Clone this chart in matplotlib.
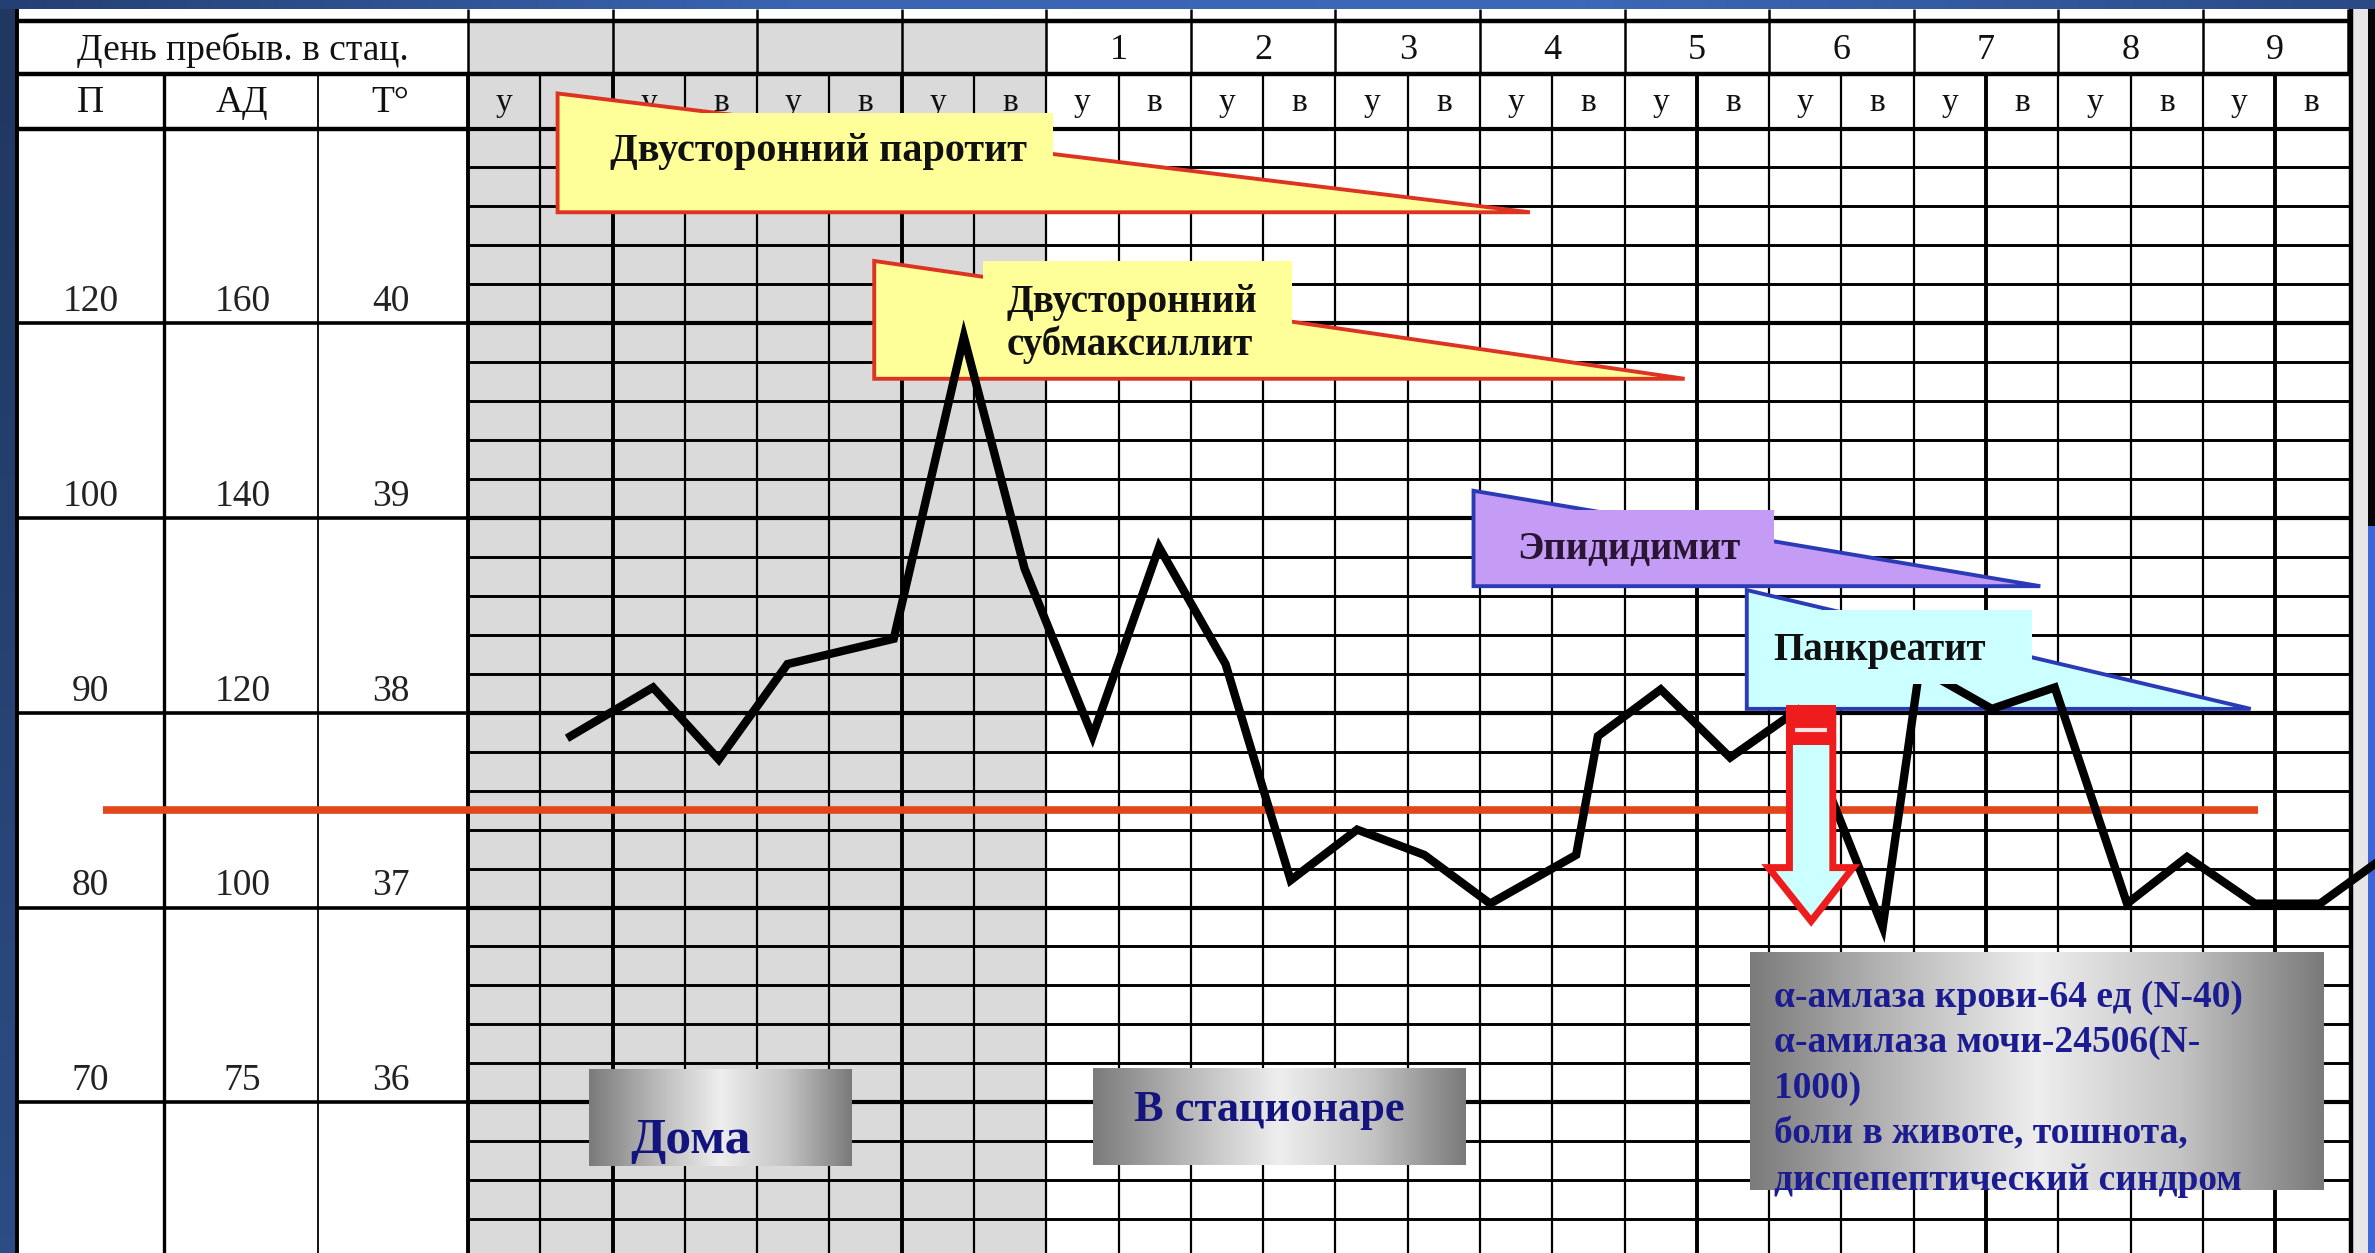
#%% Libraries
import matplotlib
matplotlib.use('Agg')
import matplotlib.pyplot as plt
import numpy as np
from matplotlib.patches import Polygon, Rectangle
from matplotlib.colors import LinearSegmentedColormap

plt.rcParams['font.family'] = ['Liberation Serif', 'DejaVu Serif']

#%% Data
half_day = ['у', 'в'] * 13                 # morning / evening columns
hosp_days = ['1', '2', '3', '4', '5', '6', '7', '8', '9']
pulse_lbl = ['120', '100', '90', '80', '70']
bp_lbl = ['160', '140', '120', '100', '75']
temp_lbl = [40, 39, 38, 37, 36]

# temperature curve: position in half-day columns, degrees C
temp_x = [1.42, 2.56, 3.47, 4.42, 5.89, 6.86, 7.70, 8.64, 9.56, 10.48,
          11.38, 12.30, 13.23, 14.14, 15.33, 15.63, 16.50, 17.46, 18.38, 19.57,
          20.08, 21.08, 21.95, 22.95, 23.78, 24.72, 25.62, 26.40]
temp_y = [37.88, 38.13, 37.76, 38.25, 38.38, 39.93, 38.74, 37.88, 38.85, 38.25,
          37.14, 37.40, 37.27, 37.02, 37.27, 37.88, 38.12, 37.77, 38.01, 36.90,
          38.23, 38.02, 38.13, 37.02, 37.26, 37.02, 37.02, 37.23]
norm_t = 37.5

info_lines = ['α-амлаза крови-64 ед (N-40)',
              'α-амилаза мочи-24506(N-',
              '1000)',
              'боли в животе, тошнота,',
              'диспепептический синдром']

#%% Figure set up (1 unit = one half-day column in x, 1 unit = 1 C in y)
X0, X1, Y0, Y1 = -6.473, 26.38, 35.226, 41.66
fig = plt.figure(figsize=(23.75, 12.53), dpi=100, facecolor='#243f6f')
ax = fig.add_axes([0, 0, 1, 1])
ax.set_axis_off()

# frame of the slide
blue_cm = LinearSegmentedColormap.from_list('b', ['#243f72', '#3a64b2', '#3d68b8', '#2a4a86'])
ax.imshow(np.linspace(0, 1, 256)[None, :], extent=(X0, X1, 41.615, Y1), cmap=blue_cm, aspect='auto', zorder=10)
side_cm = LinearSegmentedColormap.from_list('s', ['#20375f', '#2b4c85'])
ax.imshow(np.linspace(0, 1, 64)[:, None], extent=(X0, -6.24, Y0, 41.615), cmap=side_cm, aspect='auto', zorder=0)
ax.add_patch(Rectangle((-6.24, Y0), 26.07 + 6.24, 41.615 - Y0, fc='white', ec='none', zorder=0.2))
ax.add_patch(Rectangle((26.07, Y0), 0.21, 41.615 - Y0, fc='#e6e6e6', ec='none', zorder=0.2))
ax.add_patch(Rectangle((26.28, 38.96), 0.2, 41.615 - 38.96, fc='#050505', ec='none', zorder=0.2))
ax.add_patch(Rectangle((26.28, Y0), 0.2, 38.96 - Y0, fc='#3d66d9', ec='none', zorder=0.2))

# grey "home" days
ax.add_patch(Rectangle((0, Y0), 8, 41.55 - Y0, fc='#dadada', ec='none', zorder=0.5))

#%% Grid
R = 26.05
for k in range(30):
    y = 41 - 0.2 * k
    if y < Y0:
        continue
    ax.hlines(y, 0, R, color='black', lw=3.0 if k % 5 == 0 else 2.1, zorder=1)
for y in [41.28, 41.55]:
    ax.hlines(y, -6.24, R, color='black', lw=3.2, zorder=1)
ax.hlines(41.0, -6.24, 0, color='black', lw=3.2, zorder=1)
for t in temp_lbl:
    ax.hlines(t, -6.24, 0, color='black', lw=2.6, zorder=1)

thick = [0, 2, 6, 17, 21, 25]
for c in range(26):
    ax.vlines(c, Y0, 41.28, color='black', lw=2.8 if c in thick else 1.6, zorder=1)
for c in range(0, 27, 2):
    ax.vlines(c, 41.28, 41.615, color='black', lw=1.8, zorder=1)
ax.vlines(R, Y0, 41.615, color='black', lw=3.2, zorder=1)
ax.vlines(-6.24, Y0, 41.615, color='black', lw=2.8, zorder=1)
ax.vlines(-4.21, Y0, 41.28, color='black', lw=2.4, zorder=1)
ax.vlines(-2.08, Y0, 41.28, color='black', lw=1.3, zorder=1)

#%% Header texts
ax.text(-3.12, 41.40, 'День пребыв. в стац.', ha='center', va='center', fontsize=27, color='#111111', zorder=3)
for i, d in enumerate(hosp_days):
    ax.text(9 + 2 * i, 41.40, d, ha='center', va='center', fontsize=26, color='#111111', zorder=3)
for i, s in enumerate(half_day):
    ax.text(i + 0.5, 41.13, s, ha='center', va='center', fontsize=24, color='#111111', zorder=3)
for s, xc in zip(['П', 'АД', 'Т°'], [-5.22, -3.12, -1.07]):
    ax.text(xc, 41.13, s, ha='center', va='center', fontsize=27, color='#111111', zorder=3)
for p, b, t in zip(pulse_lbl, bp_lbl, temp_lbl):
    ax.text(-5.22, t + 0.11, p, ha='center', va='center', fontsize=27, color='#222222', zorder=3)
    ax.text(-3.12, t + 0.11, b, ha='center', va='center', fontsize=27, color='#222222', zorder=3)
    ax.text(-1.07, t + 0.11, str(t), ha='center', va='center', fontsize=27, color='#222222', zorder=3)

#%% Callouts (triangle wedge + text box)
def wedge_note(x0, ytop, xtip, ybot, box, face, edge, z_tri, z_box):
    bx0, bx1, btop, bbot = box
    ax.add_patch(Polygon([(x0, ytop), (xtip, ybot), (x0, ybot)], closed=True,
                         fc=face, ec=edge, lw=2.8, zorder=z_tri))
    ax.add_patch(Rectangle((bx0, bbot), bx1 - bx0, btop - bbot, fc=face, ec='none', zorder=z_box))

wedge_note(1.24, 41.18, 14.69, 40.57, (1.28, 8.09, 41.08, 40.585), '#ffff99', '#dd3322', 4, 4.1)
ax.text(1.96, 40.88, 'Двусторонний паротит', ha='left', va='center', fontsize=29,
        fontweight='bold', color='#111111', zorder=4.2)

wedge_note(5.62, 40.32, 16.83, 39.715, (7.12, 11.40, 40.32, 39.73), '#ffff99', '#dd3322', 4, 4.1)
ax.text(7.45, 39.995, 'Двусторонний\nсубмаксиллит', ha='left', va='center', fontsize=28,
        fontweight='bold', color='#111111', linespacing=1.15, zorder=4.2)

wedge_note(17.69, 38.63, 24.66, 38.02, (17.72, 21.64, 38.53, 38.15), '#ccffff', '#2b3bb5', 4.5, 6.1)
ax.text(18.06, 38.32, 'Панкреатит', ha='left', va='center', fontsize=28,
        fontweight='bold', color='#111111', zorder=6.2)

wedge_note(13.91, 39.14, 21.75, 38.65, (13.94, 18.06, 39.04, 38.662), '#c59cf5', '#2b3bb5', 6.3, 6.4)
ax.text(14.52, 38.84, 'Эпидидимит', ha='left', va='center', fontsize=28,
        fontweight='bold', color='#2a1535', zorder=6.5)

#%% Norm line and temperature curve
ax.hlines(norm_t, -5.05, 24.76, color='#e2471c', lw=5.5, zorder=3.5)
ax.plot(temp_x, temp_y, color='black', lw=6, solid_joinstyle='miter', zorder=5)

#%% Arrow
ax.add_patch(Polygon([(18.28, 38.0), (18.88, 38.0), (18.88, 37.205), (19.16, 37.205),
                      (18.58, 36.93), (17.99, 37.205), (18.28, 37.205)], closed=True,
                     fc='#ccffff', ec='#ee1c1c', lw=5, joinstyle='miter', zorder=7))
ax.add_patch(Rectangle((18.23, 37.835), 0.70, 38.04 - 37.835, fc='#ee1c1c', ec='none', zorder=7.1))
ax.hlines(37.91, 18.36, 18.80, color='#ffe2e2', lw=3, zorder=7.2)

#%% Metallic boxes
metal = LinearSegmentedColormap.from_list('m', ['#7b7b7b', '#b8b8b8', '#eeeeee', '#c4c4c4', '#7a7a7a'])
grad = np.linspace(0, 1, 256)[None, :]
for ext in [(1.67, 5.30, 35.673, 36.166), (8.65, 13.80, 35.68, 36.176), (17.73, 25.66, 35.55, 36.77)]:
    ax.imshow(grad, extent=ext, cmap=metal, aspect='auto', zorder=8)

ax.text(3.08, 35.80, 'Дома', ha='center', va='center', fontsize=37, fontweight='bold', color='#14147f', zorder=9)
ax.text(11.08, 35.96, 'В стационаре', ha='center', va='center', fontsize=32, fontweight='bold', color='#14147f', zorder=9)
for i, line in enumerate(info_lines):
    ax.text(18.07, 36.54 - 0.235 * i, line, ha='left', va='center', fontsize=27,
            fontweight='bold', color='#1c1c92', zorder=9)

ax.set_xlim(X0, X1)
ax.set_ylim(Y0, Y1)
fig.savefig('out.png', dpi=100, facecolor=fig.get_facecolor())
